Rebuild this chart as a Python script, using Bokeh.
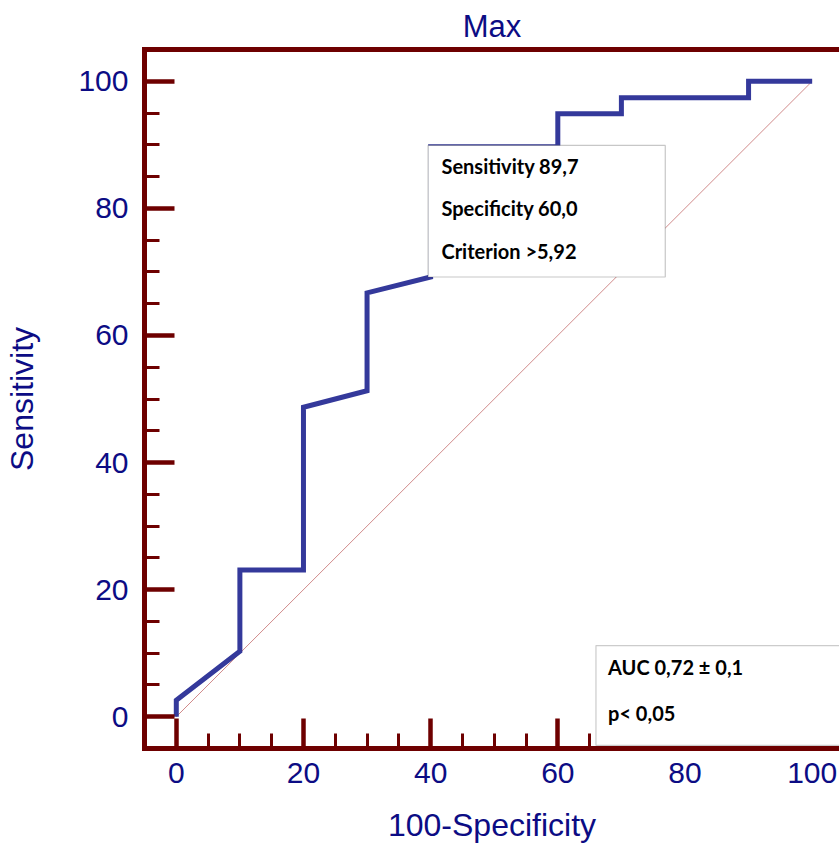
from bokeh.plotting import figure
from bokeh.models import Range1d, LinearAxis, SingleIntervalTicker, FixedTicker, BoxAnnotation, Label
from bokeh.embed import file_html
from bokeh.resources import INLINE

# ROC curve data (100-Specificity, Sensitivity)
fpr = [0, 0, 10, 10, 20, 20, 30, 30, 40, 40, 60, 60, 70, 70, 90, 90, 100]
tpr = [0, 2.6, 10.3, 23.1, 23.1, 48.7, 51.3, 66.7, 69.2, 89.7, 89.7, 94.9, 94.9, 97.4, 97.4, 100, 100]
diag_x = [0, 100]
diag_y = [0, 100]

x_tick_labels = [0, 20, 40, 60, 80, 100]
x_visible_major_ticks = [0, 20, 40, 60]          # ticks not hidden by the AUC box
x_visible_minor_ticks = [5, 10, 15, 25, 30, 35, 45, 50, 55, 65]

title_text = "Max"
x_label = "100-Specificity"
y_label = "Sensitivity"
box1_lines = ["Sensitivity 89,7", "Specificity 60,0", "Criterion >5,92"]
box2_lines = ["AUC 0,72 \u00b1 0,1", "p< 0,05"]

MAROON = "#6e0000"
NAVY = "#0c0c84"
CURVE = "#34399b"
FONT = "Liberation Sans"
BOXFONT = "Lato"

p = figure(width=839, height=845, x_range=Range1d(-5, 104.3), y_range=Range1d(-5, 105),
           output_backend="svg", toolbar_location=None,
           min_border_left=144, min_border_right=0, min_border_top=49, min_border_bottom=97,
           x_axis_location=None, y_axis_location=None)
p.grid.visible = False
p.outline_line_color = None
p.background_fill_color = "white"
p.border_fill_color = "white"

p.title.text = title_text
p.title.align = "center"
p.title.vertical_align = "top"
p.title.text_font = FONT
p.title.text_font_size = "31px"
p.title.text_font_style = "normal"
p.title.text_color = NAVY
p.title.text_line_height = 1.0
p.title.standoff = 8

def style_ticks(ax):
    ax.major_tick_line_color = MAROON
    ax.major_tick_line_width = 4.5
    ax.major_tick_in = 30
    ax.major_tick_out = 0
    ax.minor_tick_line_color = MAROON
    ax.minor_tick_line_width = 3
    ax.minor_tick_in = 15
    ax.minor_tick_out = 0

def style_text(ax, label, standoff_lab, standoff_axis):
    ax.axis_line_color = MAROON
    ax.axis_line_width = 5
    ax.axis_line_cap = "square"
    ax.major_label_text_color = NAVY
    ax.major_label_text_font = FONT
    ax.major_label_text_font_size = "30px"
    ax.major_label_standoff = standoff_lab
    ax.axis_label = label
    ax.axis_label_text_color = NAVY
    ax.axis_label_text_font = FONT
    ax.axis_label_text_font_size = "32px"
    ax.axis_label_text_font_style = "normal"
    ax.axis_label_standoff = standoff_axis

# x axis: line + labels (tick marks drawn by a second axis so the AUC box hides them)
xax = LinearAxis(ticker=FixedTicker(ticks=x_tick_labels, minor_ticks=[]))
style_text(xax, x_label, 14, 21)
xax.major_tick_line_color = None
xax.minor_tick_line_color = None
xax.major_tick_in = 0
xax.major_tick_out = 0
xax.minor_tick_in = 0
xax.minor_tick_out = 0
p.add_layout(xax, "below")

xticks = LinearAxis(fixed_location=-5,
                    ticker=FixedTicker(ticks=x_visible_major_ticks, minor_ticks=x_visible_minor_ticks),
                    axis_line_color=None, major_label_text_font_size="0px",
                    major_label_text_color=None,
                    major_label_standoff=0, axis_label_standoff=0)
style_ticks(xticks)
p.add_layout(xticks, "below")

yax = LinearAxis(ticker=SingleIntervalTicker(interval=20, num_minor_ticks=4))
style_text(yax, y_label, 16, 35)
style_ticks(yax)
p.add_layout(yax, "left")

top = LinearAxis(ticker=FixedTicker(ticks=[]), axis_line_color=MAROON, axis_line_width=5,
                 axis_line_cap="square", major_label_text_font_size="0px",
                 major_label_text_color=None,
                 major_label_standoff=0, axis_label_standoff=0,
                 major_tick_in=0, major_tick_out=0, minor_tick_in=0, minor_tick_out=0,
                 major_tick_line_color=None, minor_tick_line_color=None)
p.add_layout(top, "above")

p.line(diag_x, diag_y, line_color="#d08a8a", line_width=1)
p.line(fpr, tpr, line_color=CURVE, line_width=5, line_join="miter")

p.add_layout(BoxAnnotation(left=39.6, right=76.9, bottom=69.2, top=89.9, level="overlay",
                           fill_color="white", fill_alpha=1, line_color="#444444", line_width=1.2))
p.add_layout(BoxAnnotation(left=66.0, right=120, bottom=-4.5, top=11.2, level="overlay",
                           fill_color="white", fill_alpha=1, line_color="#555555", line_width=1.2))

for txt, yy in zip(box1_lines, [86.6, 80.0, 73.3]):
    p.add_layout(Label(x=41.7, y=yy, text=txt, text_font=BOXFONT, text_font_style="bold",
                       text_font_size="20px", text_color="black", text_baseline="middle",
                       level="overlay"))
for txt, yy in zip(box2_lines, [7.86, 0.63]):
    p.add_layout(Label(x=67.9, y=yy, text=txt, text_font=BOXFONT, text_font_style="bold",
                       text_font_size="20px", text_color="black", text_baseline="middle",
                       level="overlay"))

open("out.html", "w").write(file_html(p, INLINE))
